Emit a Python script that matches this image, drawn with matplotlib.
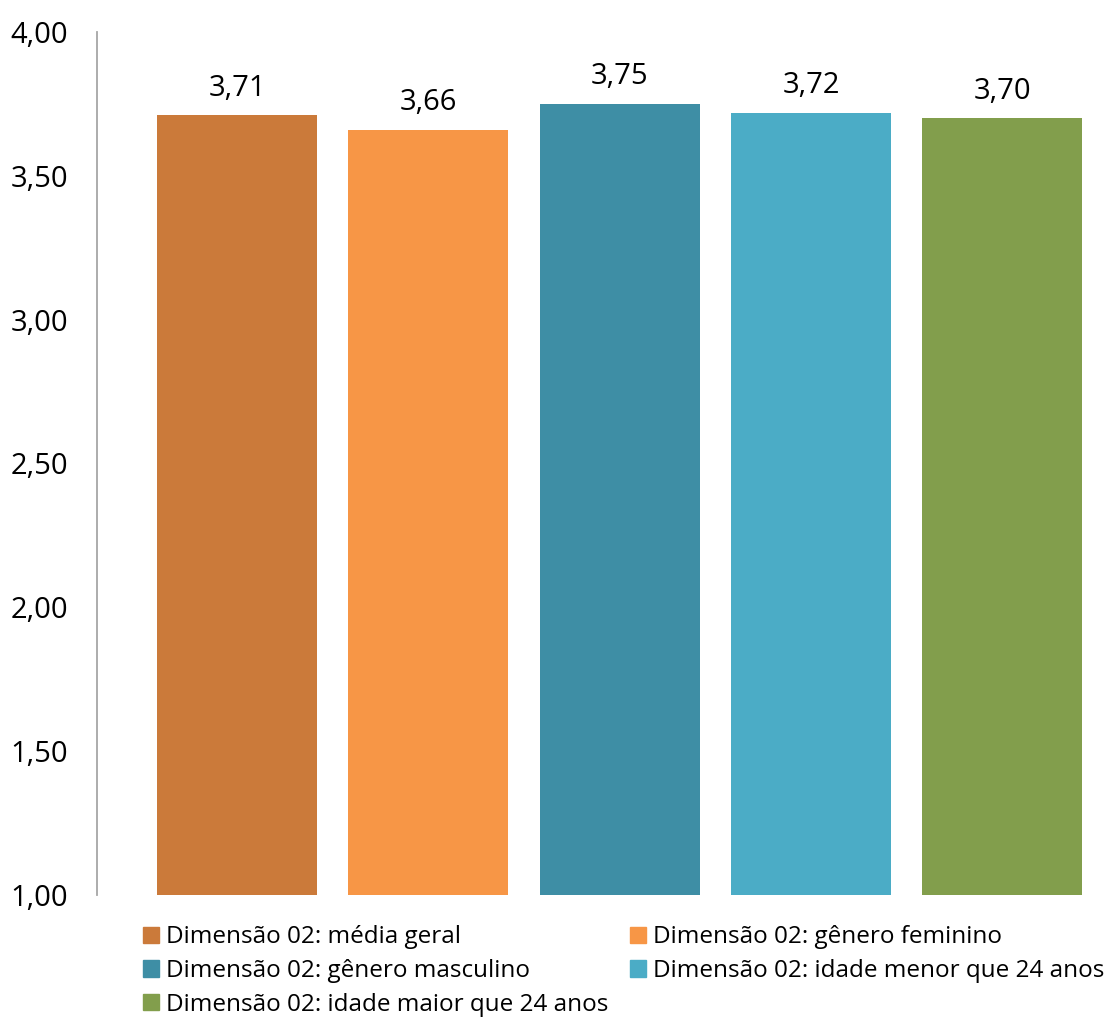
import matplotlib.pyplot as plt
from matplotlib.patches import Patch

plt.rcParams['font.family'] = ['Open Sans', 'DejaVu Sans']

# médias da dimensão 02 por grupo
grupos = ['Dimensão 02: média geral',
          'Dimensão 02: gênero feminino',
          'Dimensão 02: gênero masculino',
          'Dimensão 02: idade menor que 24 anos',
          'Dimensão 02: idade maior que 24 anos']
medias = [3.71, 3.66, 3.75, 3.72, 3.70]
cores = ['#CB7A3A', '#F79646', '#3E8EA5', '#4BACC6', '#829E4C']
yticks = [1.0, 1.5, 2.0, 2.5, 3.0, 3.5, 4.0]

fig = plt.figure(figsize=(11.09, 10.19), dpi=100)
ax = fig.add_axes([0.0879, 0.1217, 0.904, 0.8469])

pos = range(len(medias))
ax.bar(pos, medias, width=0.836, color=cores, bottom=0)
ax.set_ylim(1.0, 4.0)
ax.set_xlim(-0.729, 4.51)

for x, v in zip(pos, medias):
    ax.annotate(f'{v:.2f}'.replace('.', ','), (x, v), xytext=(0, 9),
                textcoords='offset points', ha='center', va='bottom',
                fontsize=21)

ax.set_yticks(yticks)
ax.set_yticklabels([f'{t:.2f}'.replace('.', ',') for t in yticks], fontsize=21)
ax.tick_params(axis='y', length=0, pad=21)
ax.set_xticks([])
for s in ['top', 'right', 'bottom']:
    ax.spines[s].set_visible(False)
ax.spines['left'].set_color('#A6A6A6')
ax.spines['left'].set_linewidth(1.3)

handles = [Patch(color=c) for c in cores]
ordem = [0, 2, 4, 1, 3]
fig.legend([handles[i] for i in ordem], [grupos[i] for i in ordem],
           ncol=2, loc='upper left', bbox_to_anchor=(0.129, 0.092),
           frameon=False, fontsize=17.5, handlelength=0.65, handleheight=0.65,
           handletextpad=0.3, columnspacing=0.9, labelspacing=0.4,
           borderpad=0, borderaxespad=0)

fig.savefig('out.png', dpi=100)
